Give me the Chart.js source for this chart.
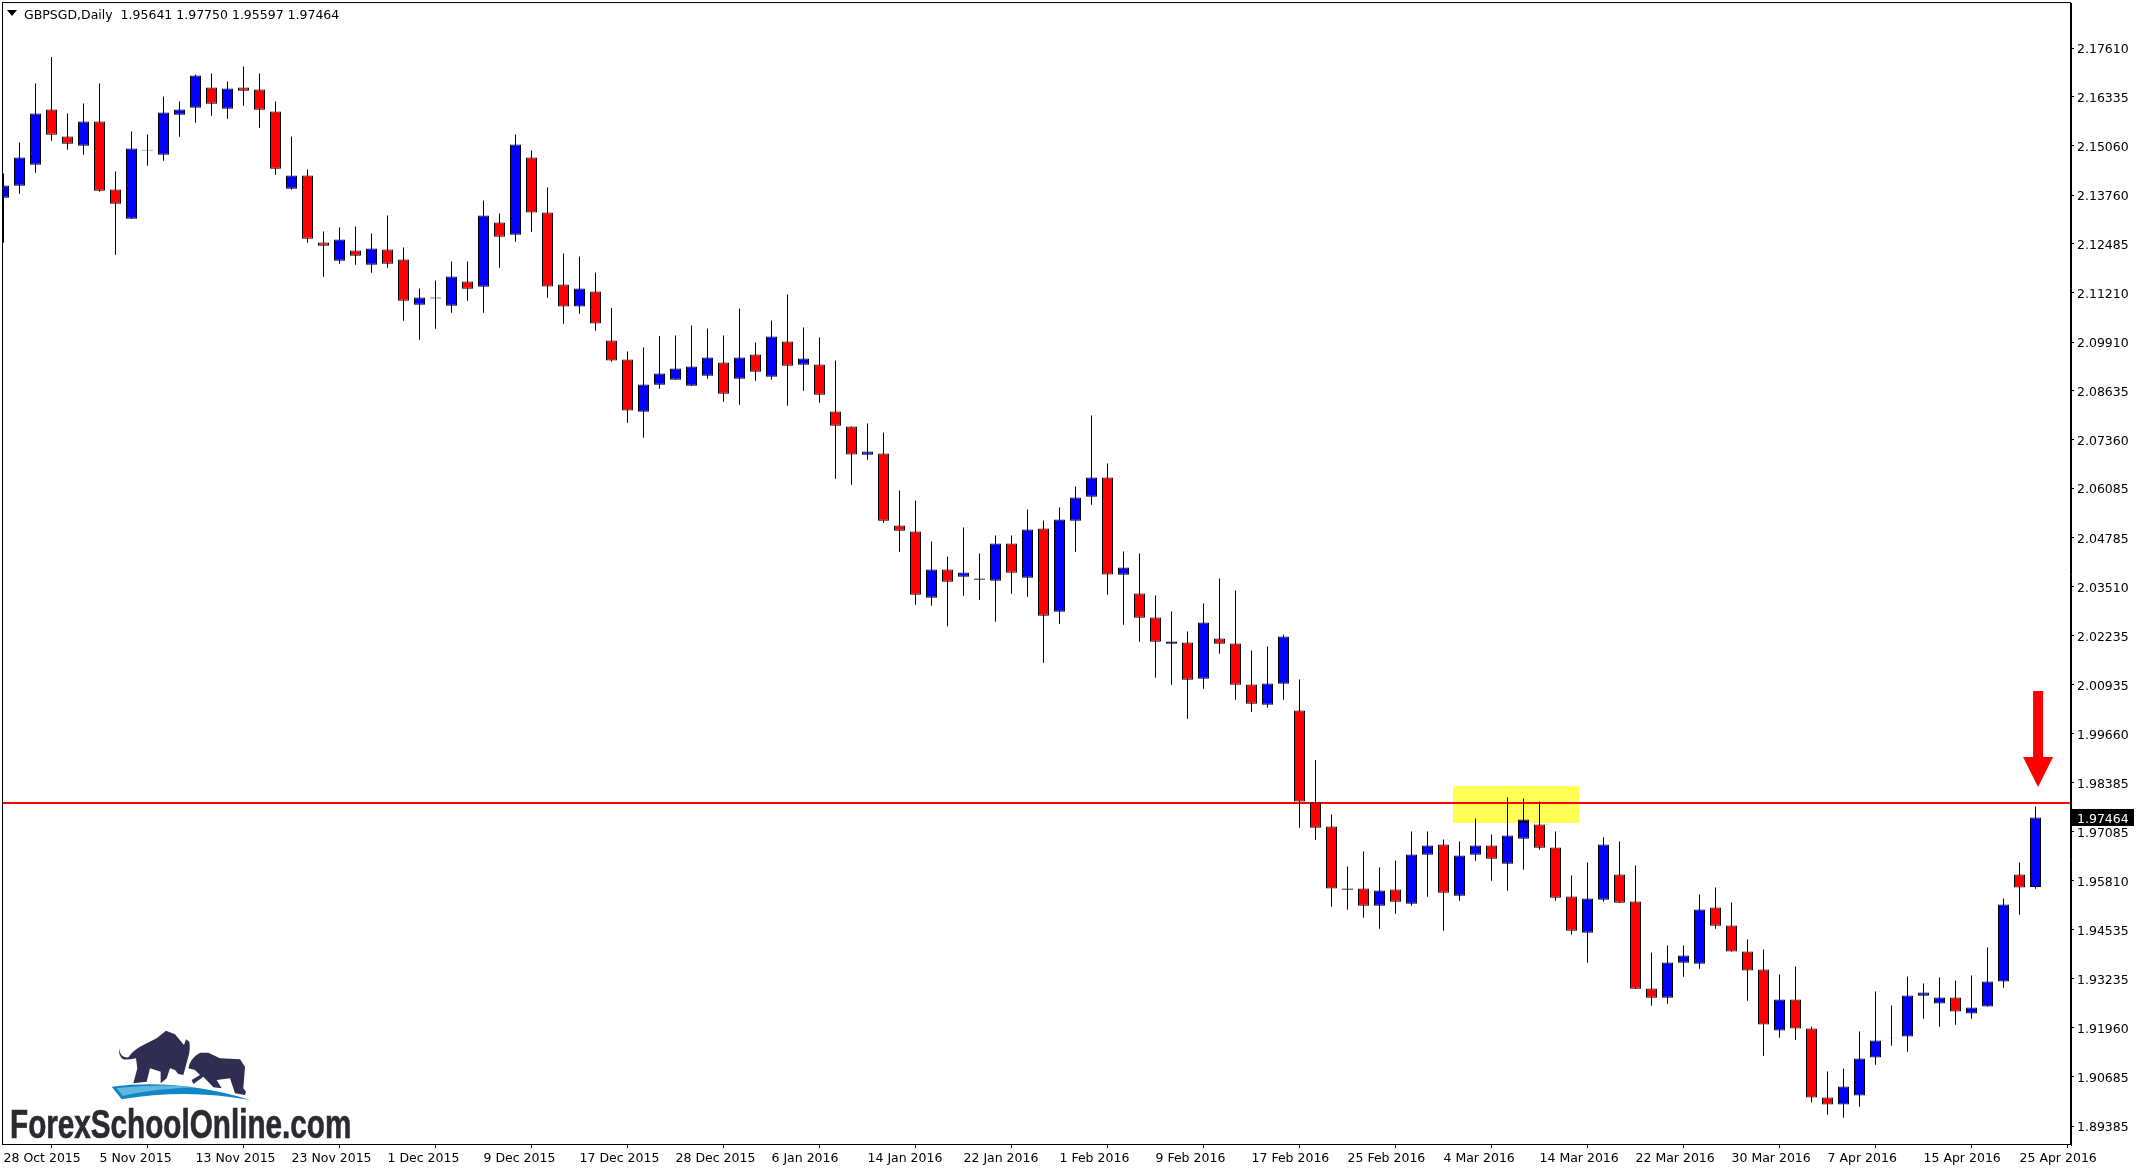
<!DOCTYPE html>
<html>
<head>
<meta charset="utf-8">
<title>GBPSGD Daily</title>
<script src="https://cdn.jsdelivr.net/npm/chart.js@4"></script>
<style>
  html, body { margin: 0; padding: 0; background: #fff; }
  #wrap { position: relative; width: 2138px; height: 1171px; overflow: hidden; }
  #price { display: block; }
  #header { position: absolute; left: 24px; top: 7px; font: 12.5px "DejaVu Sans", sans-serif; color: #000; white-space: pre; }
  #marker { position: absolute; left: 7px; top: 10px; width: 0; height: 0; border-left: 5px solid transparent; border-right: 5px solid transparent; border-top: 6px solid #000; }
  #logo { position: absolute; left: 0; top: 1000px; }
</style>
</head>
<body>
<div id="wrap">
  <canvas id="price" width="2138" height="1171"></canvas>
  <div id="marker"></div>
  <div id="header">GBPSGD,Daily  1.95641 1.97750 1.95597 1.97464</div>
  <svg id="logo" width="400" height="140" viewBox="0 0 1200 420">
    <path fill="#2f2e52" d="M357 145 Q360 175 385 172 Q400 150 430 135 L470 115 L498 92 L525 103 L552 135 L558 118 L568 125 Q572 145 565 170 L550 225 L535 222 L525 210 L510 205 L500 235 L482 250 L482 215 L450 205 L440 245 L400 250 L412 205 L408 175 Q385 180 370 178 Q355 170 357 145 Z"/>
    <path fill="#2f2e52" d="M565 205 Q570 175 600 158 L625 158 L660 175 L720 178 L735 200 L730 265 L738 275 L735 285 L705 280 L690 235 L650 240 L665 265 L640 262 L610 230 L580 252 L575 240 L600 225 L585 210 Z"/>
    <path fill="#0f86c8" d="M335 260 Q540 235 750 300 Q560 265 365 298 Z"/>
    <path fill="#62b5dd" d="M350 264 Q480 250 590 262 Q470 265 368 288 Z"/>
    <text x="30" y="414" font-family="Liberation Sans" font-weight="bold" font-size="124" fill="#2a2a30" stroke="#2a2a30" stroke-width="2" textLength="1024" lengthAdjust="spacingAndGlyphs">ForexSchoolOnline.com</text>
  </svg>
</div>
<script>
// daily bars, oldest first
const opens = [
  2.13690, 2.14004, 2.14554, 2.16004, 2.15296, 2.15052, 2.15689, 2.13908, 2.13140, 2.14947,
  2.14816, 2.15864, 2.16047, 2.16580, 2.16021, 2.16580, 2.16527, 2.15951, 2.13926, 2.14275,
  2.12520, 2.12040, 2.12311, 2.11935, 2.12337, 2.12075, 2.10888, 2.11080, 2.10862, 2.11499,
  2.11359, 2.13044, 2.12721, 2.14747, 2.13307, 2.11421, 2.10846, 2.11239, 2.09956, 2.09458,
  2.08088, 2.08795, 2.08926, 2.08769, 2.09031, 2.09380, 2.08952, 2.09589, 2.09004, 2.09930,
  2.09319, 2.09327, 2.08096, 2.07704, 2.06962, 2.06996, 2.05111, 2.04954, 2.03216, 2.03958,
  2.03766, 2.03723, 2.03662, 2.04640, 2.03741, 2.05033, 2.02850, 2.05234, 2.05862, 2.06369,
  2.03819, 2.03331, 2.02702, 2.02012, 2.02047, 2.01096, 2.02152, 2.02021, 2.00947, 2.00415,
  2.00965, 2.00266, 1.97859, 1.97231, 1.95607, 1.95607, 1.95153, 1.95581, 1.95205, 1.96489,
  1.96759, 1.95415, 1.96489, 1.96733, 1.96253, 1.96908, 1.97283, 1.96681, 1.95397, 1.94446,
  1.95310, 1.95974, 1.95266, 1.92988, 1.92744, 1.93660, 1.93634, 1.95109, 1.94638, 1.93957,
  1.93486, 1.91888, 1.92700, 1.91940, 1.90133, 1.89950, 1.90186, 1.91181, 1.91705, 1.91731,
  1.92796, 1.92595, 1.92752, 1.92333, 1.92517, 1.93171, 1.95974, 1.95641
];
const closes = [
  2.14013, 2.14746, 2.15899, 2.15340, 2.15104, 2.15689, 2.13873, 2.13533, 2.14982, 2.14930,
  2.15925, 2.16004, 2.16894, 2.16152, 2.16554, 2.16492, 2.15995, 2.14450, 2.14275, 2.12616,
  2.12433, 2.12599, 2.12171, 2.12363, 2.11962, 2.10993, 2.11080, 2.11054, 2.11630, 2.11307,
  2.13227, 2.12669, 2.15087, 2.13307, 2.11369, 2.10846, 2.11316, 2.10401, 2.09432, 2.08123,
  2.08804, 2.09092, 2.09223, 2.09275, 2.09511, 2.08559, 2.09511, 2.09135, 2.10061, 2.09292,
  2.09485, 2.08533, 2.07721, 2.06970, 2.07049, 2.05233, 2.04971, 2.03295, 2.03958, 2.03635,
  2.03880, 2.03688, 2.04639, 2.03872, 2.05007, 2.02746, 2.05269, 2.05845, 2.06369, 2.03828,
  2.04012, 2.02693, 2.02065, 2.02073, 2.01069, 2.02571, 2.02012, 2.00939, 2.00441, 2.00973,
  2.02204, 1.97885, 1.97196, 1.95607, 1.95572, 1.95153, 1.95555, 1.95258, 1.96497, 1.96733,
  1.95493, 1.96471, 1.96733, 1.96384, 1.96995, 1.97414, 1.96672, 1.95363, 1.94498, 1.95345,
  1.96759, 1.95232, 1.92979, 1.92744, 1.93669, 1.93852, 1.95057, 1.94629, 1.93957, 1.93459,
  1.92045, 1.92700, 1.91940, 1.90133, 1.89950, 1.90421, 1.91155, 1.91626, 1.91696, 1.92805,
  1.92883, 1.92752, 1.92386, 1.92490, 1.93171, 1.95188, 1.95633, 1.97464
];
const highs = [
  2.14327, 2.15139, 2.16684, 2.17374, 2.15899, 2.16161, 2.16684, 2.14380, 2.15427, 2.15349,
  2.16344, 2.16213, 2.16920, 2.16946, 2.16737, 2.17130, 2.16946, 2.16213, 2.15296, 2.14432,
  2.12808, 2.12913, 2.12939, 2.12756, 2.13227, 2.12389, 2.11316, 2.11525, 2.12023, 2.12023,
  2.13620, 2.13280, 2.15349, 2.14930, 2.13961, 2.12233, 2.12154, 2.11737, 2.10803, 2.09668,
  2.09773, 2.10069, 2.10087, 2.10349, 2.10270, 2.10087, 2.10794, 2.09904, 2.10480, 2.11161,
  2.10296, 2.10035, 2.09432, 2.07704, 2.07782, 2.07546, 2.06027, 2.05766, 2.04692, 2.04299,
  2.05058, 2.04377, 2.04849, 2.04850, 2.05531, 2.05242, 2.05583, 2.06133, 2.07992, 2.06735,
  2.04431, 2.04378, 2.03278, 2.02859, 2.02335, 2.03069, 2.03723, 2.03409, 2.01838, 2.01943,
  2.02257, 2.01078, 1.98970, 1.97545, 1.96183, 1.96576, 1.96157, 1.96340, 1.97100, 1.97100,
  1.96890, 1.96838, 1.97440, 1.97021, 1.97990, 1.97964, 1.97885, 1.97100, 1.95947, 1.96288,
  1.96943, 1.96838, 1.96209, 1.93931, 1.94114, 1.94114, 1.95450, 1.95633, 1.95240, 1.94271,
  1.94009, 1.93355, 1.93564, 1.91993, 1.90814, 1.90893, 1.91862, 1.92909, 1.92543, 1.93302,
  1.93119, 1.93276, 1.93198, 1.93329, 1.94062, 1.95345, 1.96288, 1.97750
];
const lows = [
  2.12512, 2.13795, 2.14345, 2.15183, 2.14947, 2.14816, 2.13847, 2.12197, 2.13140, 2.14528,
  2.14659, 2.15288, 2.15654, 2.15838, 2.15759, 2.16100, 2.15523, 2.14292, 2.13900, 2.12512,
  2.11621, 2.11962, 2.11935, 2.11726, 2.11857, 2.10469, 2.09971, 2.10259, 2.10678, 2.10993,
  2.10678, 2.11857, 2.12538, 2.12800, 2.11073, 2.10392, 2.10654, 2.10209, 2.09397, 2.07800,
  2.07407, 2.08690, 2.08926, 2.08769, 2.08952, 2.08350, 2.08271, 2.08900, 2.08926, 2.08245,
  2.08638, 2.08323, 2.06333, 2.06176, 2.06831, 2.05181, 2.04421, 2.03033, 2.03007, 2.02474,
  2.03269, 2.03164, 2.02588, 2.03322, 2.03243, 2.01515, 2.02536, 2.04422, 2.05653, 2.03296,
  2.02510, 2.02065, 2.01122, 2.00939, 2.00048, 2.00834, 2.01750, 2.00546, 2.00231, 2.00336,
  2.00546, 1.97196, 1.96882, 1.95127, 1.95048, 1.94839, 1.94551, 1.94943, 1.95153, 1.95389,
  1.94498, 1.95284, 1.96332, 1.95808, 1.95546, 1.96096, 1.96620, 1.95284, 1.94393, 1.93660,
  1.95258, 1.95232, 1.92979, 1.92534, 1.92586, 1.93293, 1.93503, 1.94551, 1.93957, 1.92665,
  1.91225, 1.91696, 1.91644, 1.90002, 1.89679, 1.89601, 1.89889, 1.90989, 1.91486, 1.91329,
  1.92194, 1.91984, 1.92036, 1.92194, 1.92517, 1.93006, 1.94917, 1.95597
];

const dateLabels = [
  "28 Oct 2015", "5 Nov 2015", "13 Nov 2015", "23 Nov 2015", "1 Dec 2015", "9 Dec 2015",
  "17 Dec 2015", "28 Dec 2015", "6 Jan 2016", "14 Jan 2016", "22 Jan 2016", "1 Feb 2016",
  "9 Feb 2016", "17 Feb 2016", "25 Feb 2016", "4 Mar 2016", "14 Mar 2016", "22 Mar 2016",
  "30 Mar 2016", "7 Apr 2016", "15 Apr 2016", "25 Apr 2016"
];
const dateEvery = 6; // one date label per six bars
const priceTicks = [
  2.17610, 2.16335, 2.15060, 2.13760, 2.12485, 2.11210, 2.09910, 2.08635, 2.07360, 2.06085, 2.04785, 2.03510,
  2.02235, 2.00935, 1.99660, 1.98385, 1.97085, 1.95810, 1.94535, 1.93235, 1.91960, 1.90685, 1.89385
];

const xMin = -0.03125, xMax = 129.21875;
const yMin = 1.88888, yMax = 2.18789;

// the drawn objects on the chart
const resistance = 1.97842;
const zoneBars = [90.59, 98.47];
const zonePrices = [1.97318, 1.98287];
const arrowBar = 127.16;
const arrowPrices = [2.00775, 1.99047, 1.98261]; // top, neck, tip
const lastPrice = closes[closes.length - 1];

const bodies = opens.map((o, i) => ({ x: i, y: [o, closes[i]] }));
const wicks = highs.map((h, i) => ({ x: i, y: [lows[i], h] }));
const bodyColors = opens.map((o, i) => (closes[i] > o ? "#0000ff" : "#ff0000"));

const overlays = {
  id: "overlays",
  afterDatasetsDraw(chart) {
    const { ctx, chartArea: a, scales: { x, y } } = chart;
    ctx.save();

    // yellow zone, multiplied so the blue body inside it goes dark
    ctx.globalCompositeOperation = "multiply";
    ctx.fillStyle = "#ffff55";
    ctx.fillRect(x.getPixelForValue(zoneBars[0]), y.getPixelForValue(zonePrices[1]),
      x.getPixelForValue(zoneBars[1]) - x.getPixelForValue(zoneBars[0]),
      y.getPixelForValue(zonePrices[0]) - y.getPixelForValue(zonePrices[1]));
    ctx.globalCompositeOperation = "source-over";

    // down arrow
    const cx = x.getPixelForValue(arrowBar);
    const top = y.getPixelForValue(arrowPrices[0]);
    const neck = y.getPixelForValue(arrowPrices[1]);
    const tip = y.getPixelForValue(arrowPrices[2]);
    ctx.fillStyle = "#ff0000";
    ctx.beginPath();
    ctx.moveTo(cx - 5, top);
    ctx.lineTo(cx + 5, top);
    ctx.lineTo(cx + 5, neck);
    ctx.lineTo(cx + 15, neck);
    ctx.lineTo(cx, tip);
    ctx.lineTo(cx - 15, neck);
    ctx.lineTo(cx - 5, neck);
    ctx.closePath();
    ctx.fill();

    // frame
    ctx.strokeStyle = "#000";
    ctx.lineWidth = 1;
    ctx.strokeRect(a.left - 0.5, a.top - 0.5, a.right - a.left, a.bottom - a.top);
    ctx.restore();
  },
  afterDraw(chart) {
    const { ctx, chartArea: a, scales: { y } } = chart;
    const py = y.getPixelForValue(lastPrice);
    ctx.save();
    ctx.fillStyle = "#000";
    ctx.fillRect(a.right + 1, py - 8.5, 62, 17);
    ctx.fillStyle = "#fff";
    ctx.font = '12.5px "DejaVu Sans"';
    ctx.textBaseline = "middle";
    ctx.fillText(lastPrice.toFixed(5), a.right + 6, py + 2);
    ctx.restore();
  }
};

new Chart(document.getElementById("price").getContext("2d"), {
  type: "bar",
  data: {
    datasets: [
      {
        type: "line",
        data: [{ x: xMin, y: resistance }, { x: xMax, y: resistance }],
        borderColor: "#ff0000",
        borderWidth: 2,
        pointRadius: 0,
        order: 3
      },
      {
        data: bodies,
        backgroundColor: bodyColors,
        borderColor: "#000",
        borderWidth: 1,
        borderSkipped: false,
        barThickness: 11,
        grouped: false,
        inflateAmount: 0,
        order: 1
      },
      {
        data: wicks,
        backgroundColor: "#000",
        borderWidth: 0,
        barThickness: 1,
        grouped: false,
        inflateAmount: 0,
        order: 2
      }
    ]
  },
  options: {
    responsive: false,
    devicePixelRatio: 1,
    animation: false,
    layout: { autoPadding: false, padding: { left: 3, top: 3, right: 0, bottom: 0 } },
    plugins: { legend: { display: false }, tooltip: { enabled: false } },
    scales: {
      x: {
        type: "linear",
        min: xMin,
        max: xMax,
        offset: false,
        afterBuildTicks: (scale) => {
          scale.ticks = dateLabels.map((d, i) => ({ value: i * dateEvery }));
        },
        afterFit: (scale) => { scale.height = 26; },
        grid: { display: true, drawOnChartArea: false, drawTicks: true, tickLength: 3, color: "#000" },
        border: { display: false },
        ticks: {
          autoSkip: false,
          maxRotation: 0,
          minRotation: 0,
          align: "start",
          padding: 3,
          color: "#000",
          font: { family: "DejaVu Sans", size: 12.5 },
          callback: (v) => dateLabels[v / dateEvery]
        }
      },
      y: {
        type: "linear",
        position: "right",
        min: yMin,
        max: yMax,
        afterBuildTicks: (scale) => {
          scale.ticks = priceTicks.map((v) => ({ value: v }));
        },
        afterFit: (scale) => { scale.width = 67; },
        grid: { display: true, drawOnChartArea: false, drawTicks: true, tickLength: 3, color: "#000" },
        border: { display: true, color: "#000" },
        ticks: {
          autoSkip: false,
          padding: 3,
          labelOffset: 2,
          color: "#000",
          // near-zero line height keeps the axis from reserving half a label above the frame
          font: { family: "DejaVu Sans", size: 12.5, lineHeight: 0.01 },
          callback: (v) => v.toFixed(5)
        }
      }
    }
  },
  plugins: [overlays]
});
</script>
</body>
</html>
